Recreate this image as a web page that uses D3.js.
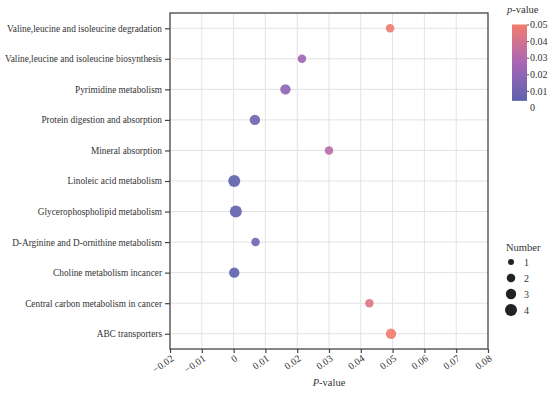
<!DOCTYPE html>
<html><head><meta charset="utf-8">
<script src="https://cdn.jsdelivr.net/npm/d3@7"></script>
<style>body{margin:0;background:#fff}svg{display:block}</style>
</head><body><svg id="c" width="550" height="393" font-family="'Liberation Serif','Times New Roman','DejaVu Serif',serif"></svg>
<script>
const pathways = ["Valine,leucine and isoleucine degradation","Valine,leucine and isoleucine biosynthesis","Pyrimidine metabolism","Protein digestion and absorption","Mineral absorption","Linoleic acid metabolism","Glycerophospholipid metabolism","D-Arginine and D-ornithine metabolism","Choline metabolism incancer","Central carbon metabolism in cancer","ABC transporters"];
const pValues = [0.0492,0.0215,0.0163,0.0067,0.0300,0.0002,0.0007,0.0069,0.0002,0.0427,0.0495];
const numbers = [2,2,3,3,2,4,4,2,3,2,3];
const xTicks = [-0.02,-0.01,0,0.01,0.02,0.03,0.04,0.05,0.06,0.07,0.08];
const colorTicks = [0,0.01,0.02,0.03,0.04,0.05];
const sizeLegend = [1,2,3,4];

const FONT = "'Liberation Serif','Times New Roman','DejaVu Serif',serif";
const svg = d3.select("#c");
const L=170,R=488,T=13,B=349;
const x = d3.scaleLinear().domain([-0.02,0.08]).range([L,R]);
const y = d3.scalePoint().domain(pathways).range([T,B]).padding(0.5);
const r = d3.scaleSqrt().domain([0,4]).range([0,6]);
const color = d3.scaleLinear().domain([0,0.025,0.05]).range(["#5d61ae","#a866b6","#f47c6e"]);

// grid
svg.append("g").selectAll("line").data(xTicks.slice(1,-1)).join("line")
  .attr("x1",d=>x(d)).attr("x2",d=>x(d)).attr("y1",T).attr("y2",B)
  .attr("stroke","#e3e3e3").attr("stroke-width",1);
svg.append("g").selectAll("line").data(pathways).join("line")
  .attr("x1",L).attr("x2",R).attr("y1",d=>y(d)).attr("y2",d=>y(d))
  .attr("stroke","#e3e3e3").attr("stroke-width",1);

// frame
svg.append("rect").attr("x",L).attr("y",T).attr("width",R-L).attr("height",B-T)
  .attr("fill","none").attr("stroke","#444").attr("stroke-width",1.3);

// x axis
const xa = svg.append("g").attr("transform",`translate(0,${B})`)
  .call(d3.axisBottom(x).tickValues(xTicks).tickSize(4).tickFormat(d=>d===0?"0":d3.format(".2f")(d)));
xa.attr("font-family",FONT);
xa.select(".domain").remove();
xa.selectAll("line").attr("stroke","#444").attr("stroke-width",1.2);
xa.selectAll("text").attr("font-size",10).attr("fill","#333")
  .attr("text-anchor","end").attr("dy",null).attr("y",0)
  .attr("transform","translate(4,11) rotate(-35)");

// y axis
const ya = svg.append("g").attr("transform",`translate(${L},0)`)
  .call(d3.axisLeft(y).tickSize(5).tickPadding(3));
ya.attr("font-family",FONT);
ya.select(".domain").remove();
ya.selectAll("line").attr("stroke","#444").attr("stroke-width",1.2);
ya.selectAll("text").attr("font-size",9.3).attr("fill","#333");

// points
svg.append("g").selectAll("circle").data(pathways).join("circle")
  .attr("cx",(d,i)=>x(pValues[i])).attr("cy",d=>y(d))
  .attr("r",(d,i)=>r(numbers[i]))
  .attr("fill",(d,i)=>color(pValues[i])).attr("fill-opacity",0.9);

// axis title
const xt = svg.append("text").attr("x",x(0.03)).attr("y",386).attr("text-anchor","middle").attr("font-size",10.5).attr("fill","#333");
xt.append("tspan").attr("font-style","italic").text("P");
xt.append("tspan").text("-value");

// color legend
const ly = d3.scaleLinear().domain([0,0.05]).range([107.5,24.5]);
const defs = svg.append("defs");
const grad = defs.append("linearGradient").attr("id","g").attr("x1",0).attr("x2",0).attr("y1",1).attr("y2",0);
[0,0.5,1].forEach(t=>grad.append("stop").attr("offset",t).attr("stop-color",color(t*0.05)));
const ct = svg.append("text").attr("x",507).attr("y",13).attr("font-size",10.5).attr("fill","#333");
ct.append("tspan").attr("font-style","italic").text("p");
ct.append("tspan").text("-value");
svg.append("rect").attr("x",512).attr("y",ly(0.05)).attr("width",15).attr("height",ly(0.004)-ly(0.05)).attr("fill","url(#g)");
const cl = svg.append("g").attr("transform","translate(527,0)")
  .call(d3.axisRight(ly).tickValues(colorTicks).tickSize(2).tickPadding(1).tickFormat(d=>d===0?"0":d3.format(".2f")(d)));
cl.attr("font-family",FONT);
cl.select(".domain").remove();
cl.selectAll("line").attr("stroke","#555").filter(d=>d===0).remove();
cl.selectAll("text").attr("font-size",10).attr("fill","#333");

// size legend
svg.append("text").attr("x",506).attr("y",251).attr("font-size",10.5).attr("fill","#333").text("Number");
const sl = svg.append("g").selectAll("g").data(sizeLegend).join("g")
  .attr("transform",(d,i)=>`translate(511,${262+i*16})`);
sl.append("circle").attr("r",d=>r(d)).attr("fill","#222");
sl.append("text").attr("x",13).attr("y",3.5).attr("font-size",10).attr("fill","#333").text(d=>d);
</script></body></html>
